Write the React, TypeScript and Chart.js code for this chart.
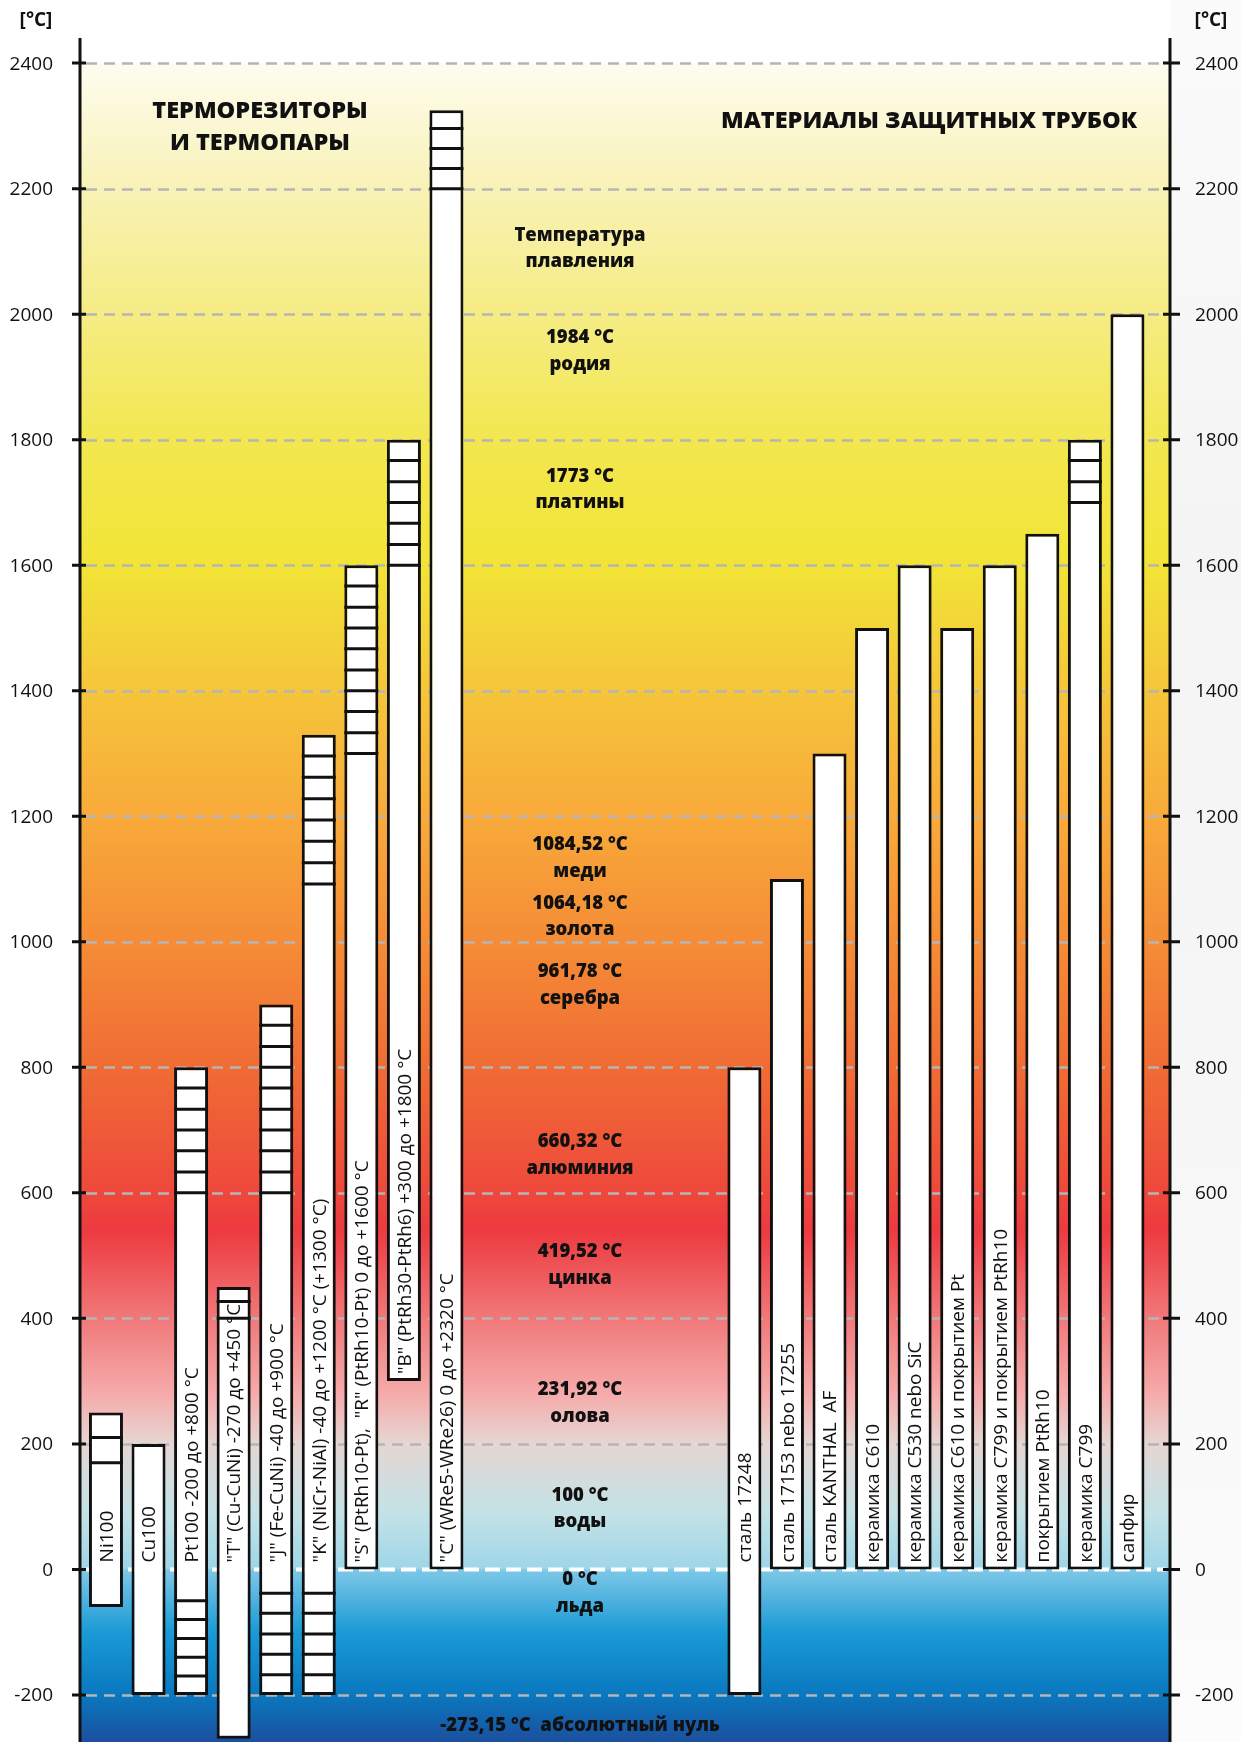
import React, { useEffect, useRef } from 'react';
import { Chart, registerables } from 'chart.js';

Chart.register(...registerables);

// ---------- data ----------
const sensorNames = [
  'Ni100',
  'Cu100',
  'Pt100 -200 до +800 °C',
  '"T" (Cu-CuNi) -270 до +450 °C',
  '"J" (Fe-CuNi) -40 до +900 °C',
  '"K" (NiCr-NiAl) -40 до +1200 °C (+1300 °C)',
  '"S" (PtRh10-Pt),  "R" (PtRh10-Pt) 0 до +1600 °C',
  '"B" (PtRh30-PtRh6) +300 до +1800 °C',
  '"C" (WRe5-WRe26) 0 до +2320 °C',
];
const sensorSlots = [0, 1, 2, 3, 4, 5, 6, 7, 8];
const sensorLow = [-60, -200, -200, -270, -200, -200, 0, 300, 0];
const sensorHigh = [250, 200, 800, 450, 900, 1330, 1600, 1800, 2325];
const sensorDivisions = [
  [170, 210],
  [],
  [-170, -140, -110, -80, -50, 600, 633, 667, 700, 733, 767],
  [400, 427],
  [-168, -135, -103, -70, -38, 600, 633, 667, 700, 733, 767, 800, 833, 867],
  [-168, -135, -103, -70, -38, 1092, 1126, 1160, 1194, 1228, 1262, 1296],
  [1300, 1333, 1367, 1400, 1433, 1467, 1500, 1533, 1567],
  [1600, 1633, 1667, 1700, 1733, 1767],
  [2200, 2232, 2264, 2296],
];

const tubeNames = [
  'сталь 17248',
  'сталь 17153 nebo 17255',
  'сталь KANTHAL  AF',
  'керамика C610',
  'керамика C530 nebo SiC',
  'керамика C610 и покрытием Pt',
  'керамика C799 и покрытием PtRh10',
  'покрытием PtRh10',
  'керамика C799',
  'сапфир',
];
const tubeSlots = [15, 16, 17, 18, 19, 20, 21, 22, 23, 24];
const tubeLow = [-200, 0, 0, 0, 0, 0, 0, 0, 0, 0];
const tubeHigh = [800, 1100, 1300, 1500, 1600, 1500, 1600, 1650, 1800, 2000];
const tubeDivisions = [[], [], [], [], [], [], [], [], [1700, 1733, 1767], []];

const yTicks = [-200, 0, 200, 400, 600, 800, 1000, 1200, 1400, 1600, 1800, 2000, 2200, 2400];

const meltingTexts = [
  ['Температура', 'плавления'],
  ['1984 °C', 'родия'],
  ['1773 °C', 'платины'],
  ['1084,52 °C', 'меди'],
  ['1064,18 °C', 'золота'],
  ['961,78 °C', 'серебра'],
  ['660,32 °C', 'алюминия'],
  ['419,52 °C', 'цинка'],
  ['231,92 °C', 'олова'],
  ['100 °C', 'воды'],
  ['0 °C', 'льда'],
  ['-273,15 °C  абсолютный нуль'],
];
// where each text block sits on the temperature scale (layout only)
const meltingAnchors = [2125, 1962, 1741, 1154, 1061, 952, 681, 506, 286, 118, -17, -249];

const leftTitle = ['ТЕРМОРЕЗИТОРЫ', 'И ТЕРМОПАРЫ'];
const rightTitle = ['МАТЕРИАЛЫ ЗАЩИТНЫХ ТРУБОК'];
const unitLabel = '[°C]';

// ---------- styling ----------
const FONT = "'Open Sans', 'DejaVu Sans', sans-serif";
const Y_MIN = -275;
const Y_MAX = 2440;
const gradientStops: [number, string][] = [
  [2400, '#fefcf0'],
  [2200, '#f8f2b6'],
  [2000, '#f5ec84'],
  [1800, '#f2e750'],
  [1600, '#f2e436'],
  [1400, '#f5c53a'],
  [1200, '#f8aa3a'],
  [1000, '#f58c36'],
  [800, '#f06c34'],
  [600, '#ee483c'],
  [540, '#ed3a40'],
  [400, '#f17879'],
  [280, '#f5abaa'],
  [200, '#e5d6d3'],
  [90, '#c3e2e6'],
  [2, '#9fd6e8'],
  [-2, '#7cc7e7'],
  [-100, '#1a9ad6'],
  [-200, '#0a78bf'],
  [-275, '#1b4f9e'],
];

const allNames = [...sensorNames, ...tubeNames];
const allLow = [...sensorLow, ...tubeLow];
const allDivisions = [...sensorDivisions, ...tubeDivisions];

const backgroundPlugin = {
  id: 'bgGradient',
  beforeDraw(chart: any) {
    const { ctx, chartArea, scales } = chart;
    const y = scales.y;
    ctx.save();
    ctx.fillStyle = '#ffffff';
    ctx.fillRect(0, 0, chart.width, chart.height);
    // faint grey photo-like margin at the right
    const side = ctx.createLinearGradient(0, 0, 0, chart.height);
    side.addColorStop(0, '#fbfbfb');
    side.addColorStop(0.3, '#f4f4f4');
    side.addColorStop(0.6, '#f6f6f6');
    side.addColorStop(1, '#fcfcfc');
    ctx.fillStyle = side;
    ctx.fillRect(chartArea.right, 0, chart.width - chartArea.right, chart.height);

    const top = y.getPixelForValue(2400);
    const y0 = y.getPixelForValue(gradientStops[0][0]);
    const y1 = y.getPixelForValue(gradientStops[gradientStops.length - 1][0]);
    const g = ctx.createLinearGradient(0, y0, 0, y1);
    gradientStops.forEach(([v, c]) => {
      const off = (y.getPixelForValue(v) - y0) / (y1 - y0);
      g.addColorStop(Math.min(1, Math.max(0, off)), c);
    });
    ctx.fillStyle = g;
    ctx.fillRect(chartArea.left, top, chartArea.right - chartArea.left, chartArea.bottom - top);
    ctx.restore();
  },
  beforeDatasetsDraw(chart: any) {
    const { ctx, chartArea, scales } = chart;
    const y = scales.y;
    ctx.save();
    yTicks.forEach((v) => {
      const py = Math.round(y.getPixelForValue(v)) + 0.5;
      ctx.beginPath();
      if (v === 0) {
        ctx.strokeStyle = '#ffffff';
        ctx.lineWidth = 4;
        ctx.setLineDash([15, 6]);
      } else {
        ctx.strokeStyle = '#b5b5b5';
        ctx.lineWidth = 2.5;
        ctx.setLineDash([11, 7]);
      }
      ctx.moveTo(chartArea.left + 6, py);
      ctx.lineTo(chartArea.right - 4, py);
      ctx.stroke();
    });
    ctx.restore();
  },
};

const overlayPlugin = {
  id: 'overlay',
  afterDatasetsDraw(chart: any) {
    const { ctx, chartArea, scales } = chart;
    const y = scales.y;
    const meta = chart.getDatasetMeta(0);
    ctx.save();

    // division lines inside bars
    ctx.strokeStyle = '#111111';
    ctx.lineWidth = 3;
    meta.data.forEach((el: any, i: number) => {
      const half = el.width / 2;
      allDivisions[i].forEach((d: number) => {
        const py = y.getPixelForValue(d);
        ctx.beginPath();
        ctx.moveTo(el.x - half, py);
        ctx.lineTo(el.x + half, py);
        ctx.stroke();
      });
    });

    // vertical labels in bars
    const fs = 19;
    ctx.fillStyle = '#111111';
    ctx.font = `${fs}px ${FONT}`;
    ctx.textAlign = 'left';
    ctx.textBaseline = 'alphabetic';
    meta.data.forEach((el: any, i: number) => {
      const start = y.getPixelForValue(Math.max(allLow[i], 0)) - 7;
      ctx.save();
      ctx.translate(el.x, start);
      ctx.rotate(-Math.PI / 2);
      ctx.fillText(allNames[i], 0, fs * 0.36);
      ctx.restore();
    });

    // axes
    ctx.strokeStyle = '#111111';
    ctx.lineWidth = 3;
    ctx.beginPath();
    ctx.moveTo(chartArea.left, chartArea.top);
    ctx.lineTo(chartArea.left, chart.height);
    ctx.moveTo(chartArea.right, chartArea.top);
    ctx.lineTo(chartArea.right, chart.height);
    ctx.stroke();

    ctx.font = `19px ${FONT}`;
    ctx.textBaseline = 'middle';
    yTicks.forEach((v) => {
      const py = y.getPixelForValue(v);
      ctx.beginPath();
      ctx.moveTo(chartArea.left - 8, py);
      ctx.lineTo(chartArea.left + 6, py);
      ctx.moveTo(chartArea.right - 7, py);
      ctx.lineTo(chartArea.right + 10, py);
      ctx.stroke();
      ctx.textAlign = 'right';
      ctx.fillText(String(v), chartArea.left - 27, py + 1);
      ctx.textAlign = 'left';
      ctx.fillText(String(v), chartArea.right + 25, py + 1);
    });

    // unit labels
    ctx.font = `bold 19px ${FONT}`;
    ctx.textAlign = 'center';
    ctx.fillText(unitLabel, 36, 21);
    ctx.fillText(unitLabel, 1211, 21);

    // titles
    ctx.font = `800 23.5px ${FONT}`;
    leftTitle.forEach((t, k) => ctx.fillText(t, 260, 111 + k * 32));
    rightTitle.forEach((t, k) => ctx.fillText(t, 929, 121 + k * 32));

    // melting point notes
    ctx.font = `800 18.5px ${FONT}`;
    meltingTexts.forEach((lines, k) => {
      const py = y.getPixelForValue(meltingAnchors[k]);
      lines.forEach((t, j) => ctx.fillText(t, 580, py + j * 26.5));
    });

    ctx.restore();
  },
};

export default function App() {
  const canvasRef = useRef<HTMLCanvasElement | null>(null);

  useEffect(() => {
    const canvas = canvasRef.current;
    if (!canvas) return;
    const data = [
      ...sensorSlots.map((s, i) => ({ x: s, y: [sensorLow[i], sensorHigh[i]] })),
      ...tubeSlots.map((s, i) => ({ x: s, y: [tubeLow[i], tubeHigh[i]] })),
    ];
    const chart = new Chart(canvas, {
      type: 'bar',
      data: {
        datasets: [
          {
            label: 'range',
            data: data as any,
            backgroundColor: '#ffffff',
            borderColor: '#111111',
            borderWidth: 3,
            borderSkipped: false,
            barThickness: 34,
            grouped: false,
            inflateAmount: 0,
          } as any,
        ],
      },
      options: {
        responsive: false,
        animation: false,
        devicePixelRatio: 1,
        layout: { padding: { left: 80, right: 71, top: 38, bottom: 0 } },
        plugins: { legend: { display: false }, tooltip: { enabled: false } },
        scales: {
          x: { type: 'linear', display: false, min: -0.61, max: 25.0, offset: false },
          y: { type: 'linear', display: false, min: Y_MIN, max: Y_MAX },
        },
      } as any,
      plugins: [backgroundPlugin, overlayPlugin],
    });
    return () => chart.destroy();
  }, []);

  return (
    <div style={{ position: 'absolute', left: 0, top: 0, width: 1241, height: 1742 }}>
      <canvas ref={canvasRef} width={1241} height={1742} style={{ display: 'block' }} />
    </div>
  );
}
